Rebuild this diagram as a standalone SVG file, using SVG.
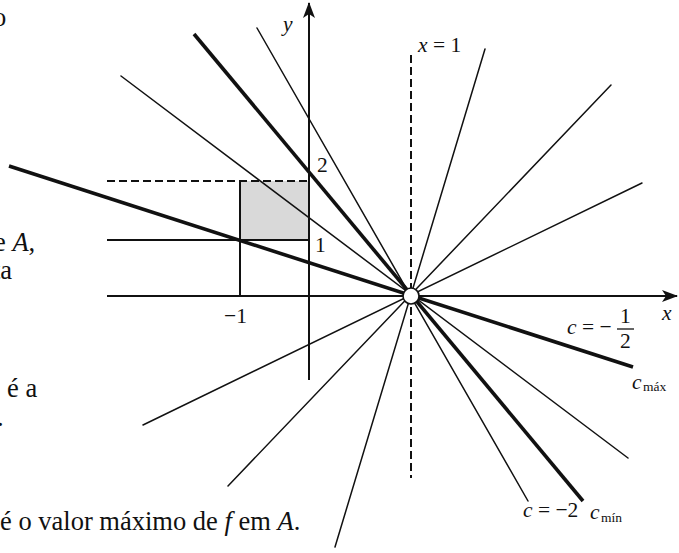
<svg xmlns="http://www.w3.org/2000/svg" width="679" height="553" viewBox="0 0 679 553">
<style>
text{font-family:"Liberation Serif","Times New Roman",serif;fill:#111}
.lab{font-size:21.5px}
.side{font-size:26.5px}
.sub{font-size:13.5px}
.it{font-style:italic}
.thin{stroke:#111;stroke-width:1.5;fill:none;stroke-linecap:round}
.thick{stroke:#111;stroke-width:3.6;fill:none;stroke-linecap:butt}
.axis{stroke:#111;stroke-width:2;fill:none}
.dash{stroke:#111;stroke-width:2;fill:none;stroke-dasharray:8 4}
</style>
<defs>
<marker id="arr" viewBox="0 0 16 12" refX="15" refY="6" markerWidth="16" markerHeight="12" markerUnits="userSpaceOnUse" orient="auto">
<path d="M0,0 L16,6 L0,12 L4,6 Z" fill="#111"/>
</marker>
</defs>
<g id="side-text">
<text class="side" x="-7" y="26">o</text>
<text class="side" x="-6" y="251">e <tspan class="it">A</tspan>,</text>
<text class="side" x="-7" y="279">ta</text>
<text class="side" x="7" y="397">é a</text>
<text class="side" x="-3" y="426">.</text>
<text class="side" x="0" y="530">é o valor máximo de <tspan class="it">f</tspan> em <tspan class="it">A</tspan>.</text>
</g>
<g id="region-A">
<rect x="240" y="181" width="69" height="59" fill="#d9d9d9"/>
<line class="dash" x1="107" y1="181" x2="309" y2="181"/>
<line class="axis" x1="107" y1="240" x2="309" y2="240"/>
<line class="axis" x1="240" y1="181" x2="240" y2="296"/>
</g>
<g id="connectors">
<line class="thin" x1="121" y1="76" x2="628" y2="458"/>
<line class="thin" x1="257" y1="28" x2="528" y2="501"/>
<line class="thin" x1="485" y1="49" x2="335" y2="547"/>
<line class="thin" x1="611" y1="85" x2="228" y2="486"/>
<line class="thin" x1="642" y1="183" x2="143" y2="425"/>
<line class="thick" x1="9" y1="166" x2="633" y2="367"/>
<line class="thick" x1="194" y1="34" x2="583" y2="501"/>
<line class="dash" x1="411" y1="55" x2="411" y2="478"/>
</g>
<g id="axes">
<line class="axis" x1="107" y1="296" x2="677" y2="296" marker-end="url(#arr)"/>
<line class="axis" x1="309" y1="380" x2="309" y2="3" marker-end="url(#arr)"/>
</g>
<g id="vertex">
<circle cx="411" cy="296" r="8" fill="#fff" stroke="#111" stroke-width="1.6"/>
</g>
<g id="labels">
<text class="lab it" x="283" y="31">y</text>
<text class="lab" x="418" y="52"><tspan class="it">x</tspan> = 1</text>
<text class="lab" x="317" y="172">2</text>
<text class="lab" x="315" y="252">1</text>
<text class="lab" x="224" y="323">−1</text>
<text class="lab it" x="662" y="320">x</text>
<text class="lab" x="567" y="334"><tspan class="it">c</tspan> = −</text>
<text class="lab" x="620" y="323">1</text>
<line x1="617" y1="329" x2="634" y2="329" stroke="#111" stroke-width="1.3"/>
<text class="lab" x="620" y="348">2</text>
<text class="lab it" x="632" y="389">c</text>
<text class="sub" x="643" y="391">máx</text>
<text class="lab" x="523" y="517"><tspan class="it">c</tspan> = −2</text>
<text class="lab it" x="590" y="519">c</text>
<text class="sub" x="601" y="522">mín</text>
</g>
</svg>
